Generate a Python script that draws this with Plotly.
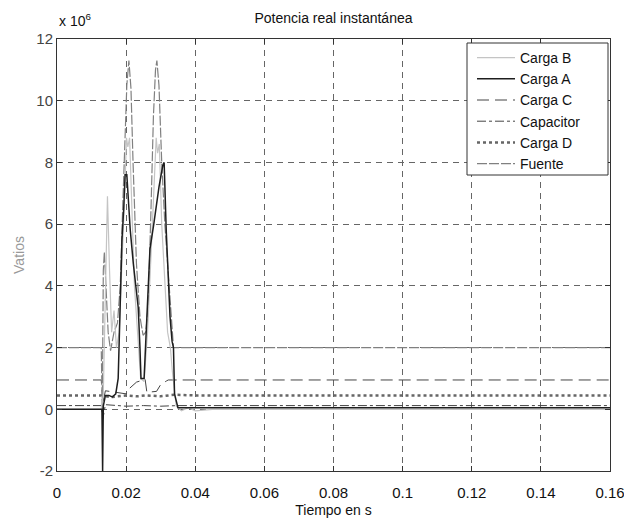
import plotly.graph_objects as go

# Values in units of 10^6 W, time in s
t_carga_b = [0, 0.0128, 0.0134, 0.0140, 0.0146, 0.0152, 0.0158, 0.0165, 0.0172, 0.0180, 0.0188, 0.0196,
             0.0201, 0.0205, 0.0210, 0.0216, 0.0224, 0.0233, 0.0242, 0.0252, 0.0262, 0.0272, 0.0282,
             0.0287, 0.0291, 0.0296, 0.0303, 0.0312, 0.0320, 0.0328, 0.0334, 0.0345, 0.0360, 0.0380,
             0.0400, 0.0450, 0.160]
p_carga_b = [0.0, 0.0, 0.5, 4.0, 6.9, 4.5, 2.5, 3.2, 2.0, 2.5, 4.5, 7.0,
             8.8, 8.5, 8.8, 6.5, 4.0, 2.5, 1.0, 0.9, 2.5, 5.0, 7.5,
             8.8, 8.3, 8.6, 6.0, 4.0, 2.5, 2.0, 1.2, 0.1, -0.05, 0.05,
             -0.05, 0.0, 0.0]

t_carga_a = [0, 0.0130, 0.0132, 0.0134, 0.0140, 0.0150, 0.0160, 0.0170, 0.0177, 0.0182, 0.0188, 0.0193,
             0.0197, 0.0202, 0.0212, 0.0221, 0.0235, 0.0240, 0.0243, 0.0252, 0.0256, 0.0262, 0.0269,
             0.0280, 0.0295, 0.0306, 0.0310, 0.0316, 0.0322, 0.0327, 0.0333, 0.0337, 0.0340, 0.0350, 0.160]
p_carga_a = [0.0, 0.0, -2.0, 0.1, 0.45, 0.45, 0.4, 0.5, 1.0, 3.5, 5.5, 6.5,
             7.6, 7.6, 5.8, 4.7, 3.3, 2.0, 1.0, 1.0, 2.0, 3.5, 5.2,
             6.0, 7.2, 7.9, 8.0, 5.8, 4.0, 3.0, 2.2, 2.0, 0.5, 0.05, 0.05]

t_carga_c = [0, 0.0128, 0.0133, 0.0140, 0.0170, 0.0200, 0.0207, 0.0230, 0.0255, 0.0260, 0.0288, 0.0300,
             0.0317, 0.0322, 0.0350, 0.160]
p_carga_c = [0.95, 0.95, 0.2, 0.6, 0.55, 0.5, 0.65, 0.88, 0.97, 0.55, 0.58, 0.8,
             0.92, 0.95, 0.95, 0.95]

t_capacitor = [0, 0.0128, 0.0133, 0.0140, 0.0200, 0.0250, 0.0300, 0.0350, 0.160]
p_capacitor = [0.12, 0.12, -0.3, 0.15, 0.10, 0.12, 0.10, 0.12, 0.12]

t_carga_d = [0, 0.0128, 0.0134, 0.0140, 0.0160, 0.0200, 0.0230, 0.0260, 0.0300, 0.0340, 0.0400,
             0.0600, 0.1000, 0.160]
p_carga_d = [0.45, 0.45, 0.30, 0.42, 0.40, 0.45, 0.42, 0.45, 0.42, 0.47, 0.45,
             0.45, 0.45, 0.45]

t_fuente = [0, 0.0128, 0.0131, 0.0134, 0.0137, 0.0141, 0.0148, 0.0155, 0.0165, 0.0175, 0.0183, 0.0190,
            0.0196, 0.0202, 0.0208, 0.0214, 0.0220, 0.0230, 0.0240, 0.0249, 0.0257, 0.0264, 0.0272,
            0.0279, 0.0285, 0.0289, 0.0295, 0.0303, 0.0312, 0.0321, 0.0330, 0.0337, 0.0345, 0.160]
p_fuente = [2.0, 2.0, 0.0, 4.5, 5.1, 4.0, 2.5, 1.9, 2.5, 2.8, 4.0, 6.5,
            8.5, 10.5, 11.3, 10.4, 8.0, 4.7, 3.0, 2.4, 2.5, 3.4, 6.5,
            9.5, 11.0, 11.3, 10.5, 8.0, 6.0, 4.5, 3.0, 2.0, 2.0, 2.0]

x_ticks = [0, 0.02, 0.04, 0.06, 0.08, 0.1, 0.12, 0.14, 0.16]
y_ticks = [-2, 0, 2, 4, 6, 8, 10, 12]

fig = go.Figure()
# draw order (back to front), legend order via legendrank
fig.add_trace(go.Scatter(x=t_carga_d, y=p_carga_d, name="Carga D", mode="lines", legendrank=5,
                         line=dict(color="#666666", width=2.5, dash="dot")))
fig.add_trace(go.Scatter(x=t_carga_c, y=p_carga_c, name="Carga C", mode="lines", legendrank=3,
                         line=dict(color="#444444", width=1, dash="12px,6px")))
fig.add_trace(go.Scatter(x=t_capacitor, y=p_capacitor, name="Capacitor", mode="lines", legendrank=4,
                         line=dict(color="#444444", width=1, dash="dashdot")))
fig.add_trace(go.Scatter(x=t_fuente, y=p_fuente, name="Fuente", mode="lines", legendrank=6,
                         line=dict(color="#808080", width=1.2, dash="10px,2px")))
fig.add_trace(go.Scatter(x=t_carga_b, y=p_carga_b, name="Carga B", mode="lines", legendrank=1,
                         line=dict(color="#c4c4c4", width=1.2)))
fig.add_trace(go.Scatter(x=t_carga_a, y=p_carga_a, name="Carga A", mode="lines", legendrank=2,
                         line=dict(color="#1e1e1e", width=1.5)))

axis_common = dict(showline=True, linecolor="#333333", linewidth=1, mirror="ticks",
                   ticks="inside", ticklen=5, tickcolor="#333333",
                   showgrid=True, gridcolor="#666666", gridwidth=1, griddash="6px,5px",
                   zeroline=False, automargin=False)

fig.update_xaxes(range=[0, 0.16], tickvals=x_ticks, ticktext=[f"{v:g}" for v in x_ticks],
                 title=dict(text="Tiempo en s", font=dict(size=14, color="#111111"), standoff=8),
                 tickfont=dict(size=15, color="#111111"), ticklabelstandoff=8,
                 ticklabeloverflow="allow", **axis_common)
fig.update_yaxes(range=[-2, 12], tickvals=y_ticks, ticktext=[str(v) for v in y_ticks],
                 title=dict(text="Vatios", font=dict(size=14, color="#999999"), standoff=8),
                 tickfont=dict(size=15, color="#444444"), ticklabeloverflow="allow", **axis_common)

fig.update_layout(
    width=624, height=518,
    margin=dict(l=57, r=14, t=39, b=47),
    paper_bgcolor="white", plot_bgcolor="white",
    font=dict(family="Liberation Sans, Arial, sans-serif", color="#111111"),
    title=dict(text="Potencia real instantánea", x=0.5, xref="paper", y=0.965, yanchor="middle",
               font=dict(size=14, color="#111111")),
    legend=dict(x=(472 - 57) / 553, xanchor="left", y=1 - (42 - 39) / 432, yanchor="top",
                bgcolor="rgba(0,0,0,0)", borderwidth=0, font=dict(size=14, color="#111111"),
                tracegroupgap=0, itemwidth=38),
    showlegend=True,
)

# legend box (MATLAB style)
fig.add_shape(type="rect", xref="paper", yref="paper",
              x0=(467 - 57) / 553, x1=(608 - 57) / 553,
              y0=1 - (175 - 39) / 432, y1=1 - (43 - 39) / 432,
              line=dict(color="#333333", width=1), fillcolor="white", layer="above")

fig.add_annotation(text="x 10<sup>6</sup>", xref="paper", yref="paper", x=0, y=1.0,
                   xanchor="left", yanchor="bottom", showarrow=False, yshift=8,
                   font=dict(size=14, color="#111111"))

fig.write_html("out.html")
